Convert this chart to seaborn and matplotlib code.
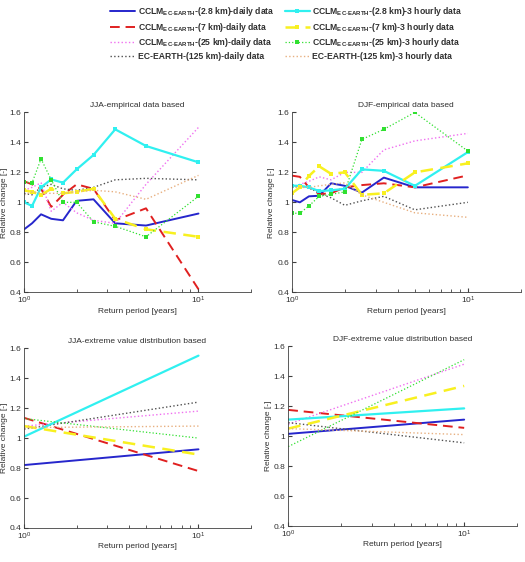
import pandas as pd
import matplotlib
matplotlib.use('Agg')
import matplotlib.pyplot as plt
import seaborn as sns

# return periods of the empirical points
rp = [1.0, 1.11, 1.25, 1.43, 1.67, 2.0, 2.5, 3.33, 5.0, 10.0]
# extreme value fits are drawn between these two return periods
rp_fit = [1.0, 10.0]

series = ['cclm28_d', 'cclm7_d', 'cclm25_d', 'ec_d',
          'cclm28_3h', 'cclm7_3h', 'cclm25_3h', 'ec_3h']

labels = [r'CCLM$_{\mathbf{EC\text{-}EARTH}}$-(2.8 km)-daily data',
          r'CCLM$_{\mathbf{EC\text{-}EARTH}}$-(7 km)-daily data',
          r'CCLM$_{\mathbf{EC\text{-}EARTH}}$-(25 km)-daily data',
          'EC-EARTH-(125 km)-daily data',
          r'CCLM$_{\mathbf{EC\text{-}EARTH}}$-(2.8 km)-3 hourly data',
          r'CCLM$_{\mathbf{EC\text{-}EARTH}}$-(7 km)-3 hourly data',
          r'CCLM$_{\mathbf{EC\text{-}EARTH}}$-(25 km)-3 hourly data',
          'EC-EARTH-(125 km)-3 hourly data']

# JJA empirical
jja_emp = {
    'cclm28_d': [0.82, 0.86, 0.92, 0.89, 0.88, 1.01, 1.02, 0.86, 0.845, 0.925],
    'cclm7_d': [1.14, 1.12, 1.09, 0.97, 1.05, 1.12, 1.09, 0.88, 0.96, 0.42],
    'cclm25_d': [1.08, 1.10, 1.13, 0.94, 1.00, 0.93, 0.88, 0.86, 1.12, 1.50],
    'ec_d': [1.06, 1.05, 1.10, 1.12, 1.09, 1.08, 1.10, 1.15, 1.16, 1.15],
    'cclm28_3h': [1.00, 0.976, 1.10, 1.153, 1.131, 1.22, 1.316, 1.487, 1.376, 1.267],
    'cclm7_3h': [1.08, 1.07, 1.05, 1.09, 1.06, 1.07, 1.09, 0.89, 0.82, 0.77],
    'cclm25_3h': [1.135, 1.13, 1.29, 1.15, 1.00, 1.00, 0.87, 0.84, 0.77, 1.04],
    'ec_3h': [1.05, 1.07, 1.06, 1.06, 1.06, 1.07, 1.08, 1.07, 1.02, 1.18],
}

# DJF empirical
djf_emp = {
    'cclm28_d': [1.016, 1.00, 1.04, 1.044, 1.127, 1.11, 1.065, 1.165, 1.10, 1.10],
    'cclm7_d': [1.178, 1.17, 1.10, 1.055, 1.06, 1.10, 1.115, 1.127, 1.10, 1.18],
    'cclm25_d': [1.10, 1.12, 1.14, 1.17, 1.15, 1.20, 1.20, 1.35, 1.41, 1.46],
    'ec_d': [1.11, 1.10, 1.10, 1.06, 1.03, 0.98, 1.01, 1.04, 0.95, 1.00],
    'cclm28_3h': [1.111, 1.11, 1.10, 1.075, 1.08, 1.09, 1.22, 1.21, 1.11, 1.335],
    'cclm7_3h': [1.06, 1.10, 1.176, 1.24, 1.19, 1.20, 1.05, 1.06, 1.20, 1.26],
    'cclm25_3h': [0.927, 0.927, 0.976, 1.04, 1.053, 1.07, 1.42, 1.487, 1.60, 1.342],
    'ec_3h': [1.10, 1.10, 1.10, 1.11, 1.12, 1.13, 1.05, 1.00, 0.93, 0.90],
}

# JJA extreme value distribution (values at rp_fit)
jja_ev = {
    'cclm28_d': [0.82, 0.925],
    'cclm7_d': [1.135, 0.78],
    'cclm25_d': [1.08, 1.18],
    'ec_d': [1.06, 1.24],
    'cclm28_3h': [1.01, 1.55],
    'cclm7_3h': [1.08, 0.89],
    'cclm25_3h': [1.13, 1.00],
    'ec_3h': [1.07, 1.08],
}

# DJF extreme value distribution (values at rp_fit)
djf_ev = {
    'cclm28_d': [1.015, 1.11],
    'cclm7_d': [1.175, 1.055],
    'cclm25_d': [1.08, 1.48],
    'ec_d': [1.09, 0.955],
    'cclm28_3h': [1.11, 1.185],
    'cclm7_3h': [1.05, 1.335],
    'cclm25_3h': [0.93, 1.51],
    'ec_3h': [1.05, 1.01],
}

styles = {
    'cclm28_d': dict(color='#2626cc', ls='-', lw=1.4),
    'cclm7_d': dict(color='#e02020', ls=(0, (5, 3)), lw=1.4),
    'cclm25_d': dict(color='#f070f0', ls=':', lw=1.0),
    'ec_d': dict(color='#505050', ls=':', lw=1.0),
    'cclm28_3h': dict(color='#30f0f0', ls='-', lw=1.6, marker='s', ms=2.5),
    'cclm7_3h': dict(color='#f8f020', ls=(0, (5, 3)), lw=1.8, marker='s', ms=2.5),
    'cclm25_3h': dict(color='#30e030', ls=':', lw=0.9, marker='s', ms=3),
    'ec_3h': dict(color='#e8b080', ls=':', lw=1.0),
}

sns.set_style('ticks')
plt.rcParams['font.family'] = ['Liberation Sans', 'DejaVu Sans']
plt.rcParams['mathtext.fontset'] = 'custom'
plt.rcParams['mathtext.rm'] = 'Liberation Sans'
plt.rcParams['mathtext.bf'] = 'Liberation Sans:bold'

fig = plt.figure(figsize=(5.25, 5.62), dpi=100)
panels = [
    ([0.046, 0.480, 0.432, 0.320], 'JJA-empirical data based', jja_emp, rp),
    ([0.556, 0.480, 0.436, 0.320], 'DJF-empirical data based', djf_emp, rp),
    ([0.046, 0.0605, 0.432, 0.320], 'JJA-extreme value distribution based', jja_ev, rp_fit),
    ([0.549, 0.064, 0.436, 0.320], 'DJF-extreme value distribution based', djf_ev, rp_fit),
]

handles = []
for i, (pos, title, data, xs) in enumerate(panels):
    ax = fig.add_axes(pos)
    ax.set_xscale('log')
    for key in series:
        st = dict(styles[key])
        if xs is rp_fit:
            st.pop('marker', None)
            st.pop('ms', None)
        df = pd.DataFrame({'rp': xs, 'val': data[key]})
        sns.lineplot(data=df, x='rp', y='val', ax=ax, color=st.pop('color'),
                     linestyle=st.pop('ls'), linewidth=st.pop('lw'),
                     markeredgewidth=0, **st)
    if i == 0:
        handles = ax.get_lines()[:len(series)]
    ax.set_xlim(1, 20)
    ax.set_ylim(0.4, 1.6)
    ax.set_yticks([0.4, 0.6, 0.8, 1.0, 1.2, 1.4, 1.6])
    ax.set_yticklabels(['0.4', '0.6', '0.8', '1', '1.2', '1.4', '1.6'])
    ax.tick_params(which='both', direction='in', labelsize=6, color='#404040',
                   labelcolor='#303030', pad=2)
    ax.tick_params(which='major', length=3)
    ax.tick_params(which='minor', length=2)
    for s in ['top', 'right']:
        ax.spines[s].set_visible(False)
    for s in ['left', 'bottom']:
        ax.spines[s].set_linewidth(0.6)
        ax.spines[s].set_color('#404040')
    ax.set_title(title, fontsize=6, color='#303030', pad=4)
    ax.set_xlabel('Return period [years]', fontsize=6, color='#303030', labelpad=1)
    ax.set_ylabel('Relative change [-]', fontsize=6, color='#303030')
    ax.yaxis.set_label_coords(-0.072, 0.5)

leg = fig.legend(handles, labels, ncol=2, loc='upper left',
                 bbox_to_anchor=(0.195, 1.005), frameon=False,
                 prop={'size': 6.2, 'weight': 'bold'}, handlelength=2.9,
                 handletextpad=0.3, columnspacing=1.2, labelspacing=0.3)
for t in leg.get_texts():
    t.set_color('#303030')

fig.savefig('out.png', dpi=100)
